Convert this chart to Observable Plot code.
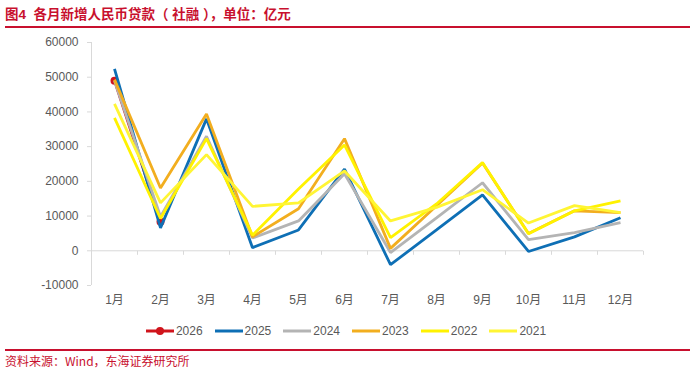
<!DOCTYPE html>
<html>
<head>
<meta charset="utf-8">
<script src="https://cdn.jsdelivr.net/npm/d3@7"></script>
<script src="https://cdn.jsdelivr.net/npm/@observablehq/plot@0.6"></script>
<style>
  html, body { margin: 0; padding: 0; background: #ffffff; }
  body { position: relative; width: 692px; height: 375px; overflow: hidden;
         font-family: "Liberation Sans", "Noto Sans CJK SC", sans-serif; }
  #title { position: absolute; left: 5px; top: 3px; width: 685px; height: 23px;
           border-bottom: 2px solid #C8102E; color: #C8102E; font-weight: bold;
           font-size: 13.5px; line-height: 23px;
           font-family: "Liberation Sans", "Noto Sans CJK SC", sans-serif; }
  #chart { position: absolute; left: 0; top: 30px; }
  #legend { position: absolute; left: 0; top: 323px; width: 692px; height: 16px;
            display: flex; justify-content: center; align-items: center;
            font-size: 12px; color: #595959; }
  .item { display: flex; align-items: center; margin: 0 6px; }
  .item svg { margin-right: 2px; }
  #source { position: absolute; left: 5px; top: 349px; width: 685px;
            border-top: 2px solid #C8102E; color: #C8102E; font-size: 12px;
            line-height: 17px; padding-top: 1px;
            font-family: "Noto Sans CJK SC", "Liberation Sans", sans-serif; }
</style>
</head>
<body>
<div id="title">图4&nbsp; 各月新增人民币贷款（ 社融 ），单位：亿元</div>
<div id="chart"></div>
<div id="legend"></div>
<div id="source">资料来源：Wind，东海证券研究所</div>
<script>
// ---- data (亿元) ----
const months = ["1月","2月","3月","4月","5月","6月","7月","8月","9月","10月","11月","12月"];
const years  = ["2026","2025","2024","2023","2022","2021"];
const colors = ["#D0141C","#0E6FB5","#B4B4B4","#F2AE1F","#FFF200","#FFF534"];
const yTicks = [-10000, 0, 10000, 20000, 30000, 40000, 50000, 60000];

const v2026 = [49000, 8400];
const v2025 = [52400, 6600, 38000, 900, 6000, 23500, -4000, 6000, 16100, -200, 4000, 9500];
const v2024 = [49000, 9800, 33000, 3700, 8600, 22200, -500, 9500, 19600, 3200, 5200, 8100];
const v2023 = [49300, 18100, 39400, 4000, 12100, 32300, 700, 13000, 25300, 5000, 11500, 11000];
const v2022 = [38300, 9300, 32300, 4500, 17800, 30500, 3800, 13500, 25400, 4900, 11500, 14400];
const v2021 = [42300, 13800, 27700, 12800, 13800, 23000, 8600, 12500, 17600, 8000, 13000, 11000];

const series = [v2026, v2025, v2024, v2023, v2022, v2021];

const data = [];
series.forEach((vals, k) => vals.forEach((v, i) => data.push({year: years[k], m: i + 1, v})));
const current = data.filter(d => d.year === years[0]);
const others = data.filter(d => d.year !== years[0]);
const boundaries = d3.range(0, months.length + 1).map(i => i + 0.5);

// small downward tick symbol for category boundaries on the zero line
const tickSym = { draw(ctx) { ctx.moveTo(0, 0); ctx.lineTo(0, 4); } };

const chart = Plot.plot({
  width: 692,
  height: 285,
  marginTop: 12,
  marginBottom: 30,
  marginLeft: 91,
  marginRight: 49,
  style: { background: "transparent", fontFamily: "Liberation Sans, Noto Sans CJK SC, sans-serif",
           fontSize: "12px", color: "#595959" },
  x: { type: "linear", domain: [0.5, months.length + 0.5], label: null },
  y: { domain: [-10000, 60000], label: null },
  color: { domain: years, range: colors },
  marks: [
    Plot.ruleX([0.5], { stroke: "#D9D9D9" }),
    Plot.ruleY([0], { stroke: "#D9D9D9" }),
    Plot.dot(boundaries, { x: d => d, y: () => 0, symbol: tickSym, fill: "none", stroke: "#D9D9D9", strokeWidth: 1 }),
    Plot.axisY({ ticks: yTicks, tickSize: 4, tickPadding: 9, stroke: "#D9D9D9", fill: "#595959",
                 tickFormat: d => String(d), fontSize: 12, label: null }),
    Plot.axisX({ ticks: d3.range(1, months.length + 1), tickSize: 0, tickPadding: 10,
                 tickFormat: i => months[i - 1], fill: "#595959", fontSize: 12, label: null }),
    Plot.line(current, { x: "m", y: "v", z: "year", stroke: "year", strokeWidth: 2.8,
                         strokeLinejoin: "miter", strokeLinecap: "butt" }),
    Plot.dot(current, { x: "m", y: "v", r: 4, fill: colors[0], stroke: "none" }),
    Plot.line(others, { x: "m", y: "v", z: "year", stroke: "year", strokeWidth: 2.8,
                        strokeLinejoin: "miter", strokeLinecap: "butt" })
  ]
});
document.getElementById("chart").appendChild(chart);

// legend
const legend = d3.select("#legend");
years.forEach((yr, k) => {
  const item = legend.append("div").attr("class", "item");
  const s = item.append("svg").attr("width", 28).attr("height", 10);
  s.append("line").attr("x1", 0).attr("x2", 28).attr("y1", 5).attr("y2", 5)
    .attr("stroke", colors[k]).attr("stroke-width", 3);
  if (k === 0) s.append("circle").attr("cx", 14).attr("cy", 5).attr("r", 4).attr("fill", colors[k]);
  item.append("span").text(yr);
});
</script>
</body>
</html>
